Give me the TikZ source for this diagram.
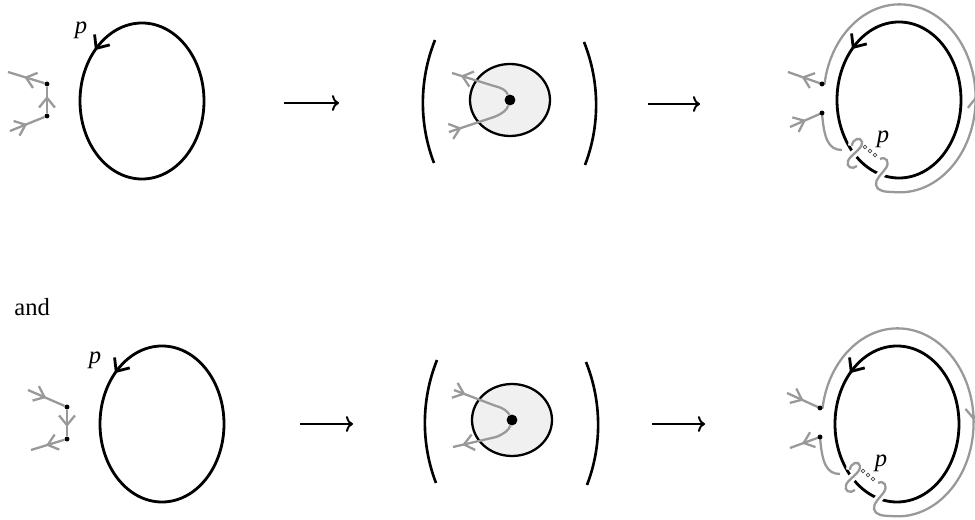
\documentclass[tikz,border=0pt]{standalone}
\usepackage{fontspec}
\setmainfont{Liberation Serif}
\usepackage{xcolor}
\definecolor{strand}{RGB}{153,153,153}
\definecolor{disc}{RGB}{240,240,240}
\usetikzlibrary{arrows.meta,decorations.markings}

\tikzset{
  lbl/.style={font=\fontsize{14}{16}\selectfont, inner sep=0pt},
  plbl/.style={lbl, anchor=base, font=\fontsize{14}{16}\selectfont\itshape},
  loopline/.style={draw=black, line width=1.6pt},
  strandline/.style={color=strand, line width=1.3pt},
  overpass/.style={preaction={draw=white, line width=4.5pt}},
  dot/.style={circle, fill=black, inner sep=0pt, minimum size=2.8pt},
  bigdot/.style={circle, fill=black, inner sep=0pt, minimum size=6.2pt},
  tinydot/.style={circle, draw=black!70, line width=0.4pt, inner sep=0pt, minimum size=2.2pt},
  fwd/.style={postaction={decorate, decoration={markings,
      mark=at position #1 with {\arrow{Straight Barb[length=5.5pt,width=9pt]}}}}},
  bwd/.style={postaction={decorate, decoration={markings,
      mark=at position #1 with {\arrowreversed{Straight Barb[length=5.5pt,width=9pt]}}}}},
  loopbwd/.style={postaction={decorate, decoration={markings,
      mark=at position #1 with {\arrowreversed{Straight Barb[length=6pt,width=10.5pt]}}}}},
  maparrow/.style={line width=1.1pt, -{To[length=4pt,width=9pt]}},
  paren/.style={line width=1.5pt},
}

\begin{document}
\begin{tikzpicture}[x=0.02cm, y=-0.02cm]
    \useasboundingbox (0,0) rectangle (975,520);

    % ---------- first row ----------
    % loop with two marked points
    \draw[loopline, loopbwd=0.622] (142,101) ellipse [x radius=62, y radius=78];
    \node[plbl] (tp1) at (81,34) {p};
    \node[dot] (ta1) at (47,84) {};
    \node[dot] (tb1) at (47,116) {};
    \coordinate (ta1x) at (8,72);
    \coordinate (tb1x) at (10,131);
    \draw[strandline, fwd=0.55] (ta1) -- (ta1x);
    \draw[strandline, fwd=0.65] (tb1) -- (ta1);
    \draw[strandline, fwd=0.5] (tb1x) -- (tb1);

    \coordinate (tm1) at (284,103);
    \coordinate (tm2) at (339,103);
    \draw[maparrow] (tm1) -- (tm2);

    % shaded disc in brackets
    \draw[paren] (435,40) .. controls (419,80) and (419,124) .. (434,163);
    \draw[paren] (584,42) .. controls (600,82) and (600,126) .. (585,165);
    \draw[line width=1.3pt, fill=disc] (510,100) ellipse [x radius=40, y radius=36];
    \node[bigdot] (tc) at (510,100) {};
    \coordinate (tcu) at (452,73);
    \coordinate (tcl) at (449,132);
    \draw[strandline, fwd=0.85] (tc) .. controls (506,90) and (502,88) .. (494,86) -- (tcu);
    \draw[strandline, fwd=0.2] (tcl) -- (494,117) .. controls (502,114) and (507,110) .. (tc);

    \coordinate (tm3) at (648,104);
    \coordinate (tm4) at (700,104);
    \draw[maparrow] (tm3) -- (tm4);

    % strand wound round the loop
    \draw[loopline, loopbwd=0.622] (899,100) ellipse [x radius=62, y radius=78];
    \coordinate (ta3) at (822,84);
    \coordinate (tb3) at (822,113);
    \coordinate (ta3x) at (788,72);
    \coordinate (tb3x) at (790,127);
    \coordinate (tw) at (893,192);
    \draw[strandline, fwd=0.6] (ta3) -- (ta3x);
    \draw[strandline, fwd=0.5] (tb3x) -- (tb3);
    \draw[strandline] (tb3) .. controls (824,138) and (828,150) .. (842,150);
    \draw[strandline, overpass] (852,146) .. controls (852,139) and (861,136) .. (862,142)
        .. controls (863,149) and (850,155) .. (848,161) .. controls (846,167) and (852,170) .. (857,166);
    \draw[strandline, overpass] (880,159) .. controls (886,156) and (890,162) .. (886,168)
        .. controls (882,174) and (875,179) .. (876,185) .. controls (877,191) and (885,192) .. (tw);
    \draw[strandline, fwd=0.36] (tw) arc[start angle=95, end angle=-171, x radius=76, y radius=94] -- (ta3);
    \node[dot] (ta3d) at (ta3) {};
    \node[dot] (tb3d) at (tb3) {};
    \foreach \k in {0,1,2}
        \node[tinydot] (td\k) at ({865+5*\k},{147+4*\k}) {};
    \node[plbl] (tp3) at (883,143) {p};

    % ---------- second row ----------
    \node[lbl, anchor=base west] (andlbl) at (14,316) {and};

    \begin{scope}[shift={(20,323)}]
    \draw[loopline, loopbwd=0.622] (142,101) ellipse [x radius=62, y radius=78];
    \node[plbl] (bp1) at (75,41) {p};
    \node[dot] (ba1) at (47,84) {};
    \node[dot] (bb1) at (47,116) {};
    \coordinate (ba1x) at (8,67);
    \coordinate (bb1x) at (11,127);
    \draw[strandline, fwd=0.5] (ba1x) -- (ba1);
    \draw[strandline, fwd=0.65] (ba1) -- (bb1);
    \draw[strandline, fwd=0.55] (bb1) -- (bb1x);
    \end{scope}

    \coordinate (bm1) at (300,424);
    \coordinate (bm2) at (353,424);
    \draw[maparrow] (bm1) -- (bm2);

    \begin{scope}[shift={(2,320)}]
    \draw[paren] (435,40) .. controls (419,80) and (419,124) .. (434,163);
    \draw[paren] (584,42) .. controls (600,82) and (600,126) .. (585,165);
    \draw[line width=1.3pt, fill=disc] (510,100) ellipse [x radius=40, y radius=36];
    \node[bigdot] (bc) at (510,100) {};
    \coordinate (bcu) at (452,70);
    \coordinate (bcl) at (451,127);
    \draw[strandline, fwd=0.2] (bcu) -- (494,86) .. controls (502,88) and (506,92) .. (bc);
    \draw[strandline, fwd=0.85] (bc) .. controls (507,110) and (502,114) .. (494,117) -- (bcl);
    \end{scope}

    \coordinate (bm3) at (652,424);
    \coordinate (bm4) at (705,424);
    \draw[maparrow] (bm3) -- (bm4);

    \begin{scope}[shift={(-2,324)}]
    \draw[loopline, loopbwd=0.622] (899,100) ellipse [x radius=62, y radius=78];
    \coordinate (ba3) at (822,84);
    \coordinate (bb3) at (822,113);
    \coordinate (ba3x) at (789,69);
    \coordinate (bb3x) at (792,124);
    \coordinate (bw) at (893,192);
    \draw[strandline, fwd=0.5] (ba3x) -- (ba3);
    \draw[strandline, fwd=0.6] (bb3) -- (bb3x);
    \draw[strandline] (bb3) .. controls (824,138) and (828,150) .. (842,150);
    \draw[strandline, overpass] (852,146) .. controls (852,139) and (861,136) .. (862,142)
        .. controls (863,149) and (850,155) .. (848,161) .. controls (846,167) and (852,170) .. (857,166);
    \draw[strandline, overpass] (880,159) .. controls (886,156) and (890,162) .. (886,168)
        .. controls (882,174) and (875,179) .. (876,185) .. controls (877,191) and (885,192) .. (bw);
    \draw[strandline, bwd=0.36] (bw) arc[start angle=95, end angle=-171, x radius=76, y radius=94] -- (ba3);
    \node[dot] (ba3d) at (ba3) {};
    \node[dot] (bb3d) at (bb3) {};
    \foreach \k in {0,1,2}
        \node[tinydot] (bd\k) at ({865+5*\k},{147+4*\k}) {};
    \node[plbl] (bp3) at (883,143) {p};
    \end{scope}
\end{tikzpicture}
\end{document}
